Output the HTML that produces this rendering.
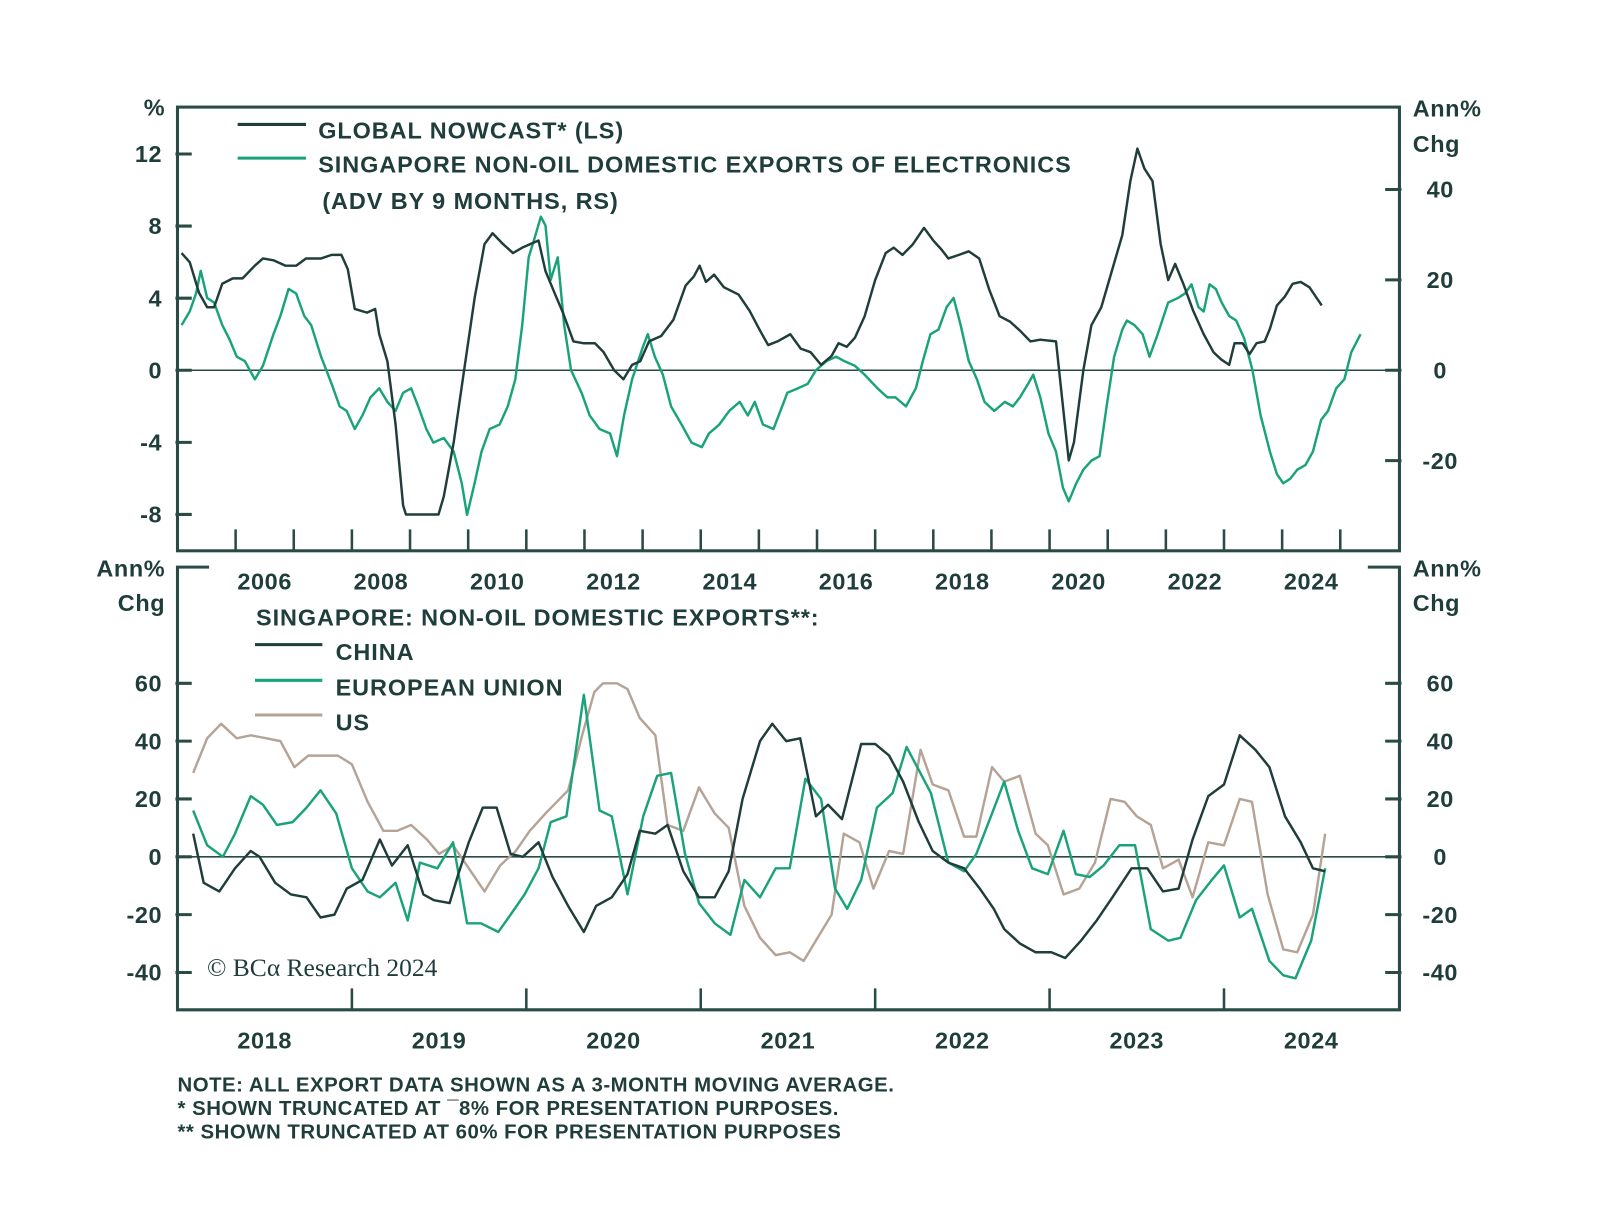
<!DOCTYPE html>
<html><head><meta charset="utf-8"><style>
html,body{margin:0;padding:0;background:#fff}
svg{display:block;font-family:"Liberation Sans",sans-serif}
.lbl{font-weight:bold;fill:#1f3d3a;font-size:23px;letter-spacing:0.9px}
.tk{font-weight:bold;fill:#1f3d3a;font-size:23px;letter-spacing:0.6px}
.note{font-weight:bold;fill:#1f3d3a;font-size:20px;letter-spacing:0.5px}
</style></head><body>
<svg id="chart" width="1600" height="1219" viewBox="0 0 1600 1219" xmlns="http://www.w3.org/2000/svg">
<g id="root" transform="scale(1.02)">
<g id="frames">
<rect x="174" y="105" width="1198" height="435" fill="none" stroke="#2a4a45" stroke-width="3"/>
<path d="M205 556 H174 V990 H1372 V556 H1341" fill="none" stroke="#2a4a45" stroke-width="3"/>
</g>
<g id="topPanel"></g>
<g id="botPanel"></g>
<g>
<line x1="233" y1="122" x2="300" y2="122" stroke="#1f3d3a" stroke-width="3"/>
<text class="lbl" x="312" y="136">GLOBAL NOWCAST* (LS)</text>
<line x1="233" y1="155" x2="300" y2="155" stroke="#1aa37a" stroke-width="3"/>
<text class="lbl" x="312" y="169">SINGAPORE NON-OIL DOMESTIC EXPORTS OF ELECTRONICS</text>
<text class="lbl" x="316" y="205">(ADV BY 9 MONTHS, RS)</text>
</g>
<g>
<text class="lbl" x="251" y="613">SINGAPORE: NON-OIL DOMESTIC EXPORTS**:</text>
<line x1="250" y1="632" x2="316" y2="632" stroke="#1f3d3a" stroke-width="3"/>
<text class="lbl" x="329" y="647">CHINA</text>
<line x1="250" y1="667" x2="316" y2="667" stroke="#1aa37a" stroke-width="3"/>
<text class="lbl" x="329" y="682">EUROPEAN UNION</text>
<line x1="250" y1="701" x2="316" y2="701" stroke="#b5a396" stroke-width="3"/>
<text class="lbl" x="329" y="716">US</text>
</g>
<text class="tk" x="162" y="113" text-anchor="end">%</text>
<text class="tk" x="1385" y="114">Ann%</text>
<text class="tk" x="1385" y="149">Chg</text>
<text class="tk" x="162" y="565" text-anchor="end">Ann%</text>
<text class="tk" x="162" y="599" text-anchor="end">Chg</text>
<text class="tk" x="1385" y="565">Ann%</text>
<text class="tk" x="1385" y="599">Chg</text>
<text x="203" y="957" font-family="'Liberation Serif',serif" font-size="25" fill="#1f3d3a">© BCα Research 2024</text>
<text class="note" x="174" y="1070">NOTE: ALL EXPORT DATA SHOWN AS A 3-MONTH MOVING AVERAGE.</text>
<text class="note" x="174" y="1093">* SHOWN TRUNCATED AT ¯8% FOR PRESENTATION PURPOSES.</text>
<text class="note" x="174" y="1116">** SHOWN TRUNCATED AT 60% FOR PRESENTATION PURPOSES</text>
</g>
</svg>
<script>
const topLeftTicks=[12,8,4,0,-4,-8];
const topRightTicks=[40,20,0,-20];
const topYearLabels=[2006,2008,2010,2012,2014,2016,2018,2020,2022,2024];
const botTicks=[60,40,20,0,-20,-40];
const botYearLabels=[2018,2019,2020,2021,2022,2023,2024];

const nowcastDates=[2005.07,2005.21,2005.37,2005.51,2005.63,2005.77,2005.95,2006.12,2006.33,2006.47,2006.65,2006.86,2007.04,2007.21,2007.47,2007.65,2007.82,2007.93,2008.05,2008.26,2008.40,2008.47,2008.61,2008.75,2008.88,2008.93,2009.49,2009.58,2009.75,2009.93,2010.11,2010.28,2010.42,2010.60,2010.77,2010.93,2011.21,2011.33,2011.51,2011.63,2011.81,2011.98,2012.18,2012.33,2012.51,2012.67,2012.82,2012.96,2013.11,2013.32,2013.53,2013.74,2013.88,2013.98,2014.09,2014.23,2014.40,2014.65,2014.84,2015.02,2015.16,2015.32,2015.54,2015.72,2015.89,2016.07,2016.25,2016.37,2016.51,2016.65,2016.82,2017.00,2017.18,2017.32,2017.47,2017.65,2017.84,2018.00,2018.14,2018.26,2018.44,2018.61,2018.79,2018.96,2019.14,2019.32,2019.49,2019.67,2019.84,2020.11,2020.23,2020.33,2020.42,2020.58,2020.72,2020.89,2021.07,2021.25,2021.39,2021.51,2021.63,2021.77,2021.91,2022.04,2022.16,2022.30,2022.47,2022.65,2022.82,2022.95,2023.09,2023.18,2023.32,2023.44,2023.56,2023.70,2023.79,2023.91,2024.05,2024.18,2024.32,2024.47,2024.68];
const nowcastValues=[6.5,6.0,4.3,3.5,3.5,4.8,5.1,5.1,5.8,6.2,6.1,5.8,5.8,6.2,6.2,6.4,6.4,5.6,3.4,3.2,3.4,2.0,0.5,-3,-7.5,-8,-8,-7,-4,0,4,7,7.6,7,6.5,6.8,7.2,5.5,4.1,3.2,1.6,1.5,1.5,1.0,0.0,-0.5,0.3,0.5,1.6,1.9,2.8,4.7,5.2,5.8,4.9,5.3,4.6,4.2,3.3,2.2,1.4,1.6,2.0,1.2,1.0,0.3,0.8,1.5,1.3,1.8,3.0,5.0,6.5,6.8,6.4,7.0,7.9,7.2,6.7,6.2,6.4,6.6,6.2,4.5,3.0,2.7,2.2,1.6,1.7,1.6,-2,-5.0,-4,0,2.5,3.5,5.5,7.5,10.5,12.3,11.2,10.5,7,5.0,5.9,4.8,3.3,2.0,1.0,0.6,0.3,1.5,1.5,0.9,1.5,1.6,2.3,3.6,4.1,4.8,4.9,4.6,3.6];

const elecDates=[2005.07,2005.21,2005.32,2005.40,2005.51,2005.63,2005.77,2005.89,2006.02,2006.16,2006.33,2006.47,2006.65,2006.77,2006.91,2007.04,2007.18,2007.30,2007.47,2007.65,2007.79,2007.91,2008.05,2008.18,2008.32,2008.47,2008.61,2008.75,2008.88,2009.02,2009.14,2009.28,2009.40,2009.58,2009.75,2009.89,2009.98,2010.11,2010.23,2010.37,2010.54,2010.68,2010.81,2010.93,2011.04,2011.16,2011.25,2011.33,2011.42,2011.54,2011.65,2011.77,2011.95,2012.09,2012.26,2012.44,2012.56,2012.68,2012.82,2013.00,2013.09,2013.21,2013.35,2013.49,2013.67,2013.84,2014.02,2014.14,2014.32,2014.49,2014.67,2014.81,2014.93,2015.07,2015.25,2015.37,2015.49,2015.67,2015.84,2015.98,2016.16,2016.33,2016.47,2016.65,2016.82,2017.04,2017.21,2017.35,2017.53,2017.70,2017.82,2017.95,2018.09,2018.23,2018.35,2018.47,2018.61,2018.75,2018.88,2019.05,2019.23,2019.37,2019.49,2019.63,2019.72,2019.84,2019.98,2020.11,2020.23,2020.33,2020.46,2020.58,2020.72,2020.86,2020.98,2021.11,2021.25,2021.33,2021.46,2021.60,2021.72,2021.86,2022.04,2022.21,2022.33,2022.44,2022.56,2022.65,2022.75,2022.86,2022.96,2023.09,2023.21,2023.35,2023.49,2023.63,2023.79,2023.91,2024.02,2024.14,2024.26,2024.40,2024.53,2024.67,2024.79,2024.93,2025.07,2025.19,2025.35];
const elecValues=[10,13,17,22,16,15,10,7,3,2,-2,1,8,12,18,17,12,10,3,-3,-8,-9,-13,-10,-6,-4,-7,-9,-5,-4,-8,-13,-16,-15,-18,-25,-32,-25,-18,-13,-12,-8,-2,10,25,30,34,32,20,25,10,0,-5,-10,-13,-14,-19,-10,-2,5,8,3,-1,-8,-12,-16,-17,-14,-12,-9,-7,-10,-7,-12,-13,-9,-5,-4,-3,0,2,3,2,1,-1,-4,-6,-6,-8,-4,2,8,9,14,16,10,2,-2,-7,-9,-7,-8,-6,-3,-1,-6,-14,-18,-26,-29,-25,-22,-20,-19,-8,3,9,11,10,8,3,8,15,16,17,19,14,13,19,18,15,12,11,7,0,-10,-18,-23,-25,-24,-22,-21,-18,-11,-9,-4,-2,4,8];

const chinaDates=[2018.09,2018.15,2018.24,2018.33,2018.42,2018.47,2018.56,2018.65,2018.74,2018.82,2018.90,2018.97,2019.06,2019.16,2019.23,2019.32,2019.41,2019.47,2019.56,2019.61,2019.67,2019.75,2019.83,2019.91,2019.98,2020.07,2020.15,2020.24,2020.33,2020.40,2020.49,2020.58,2020.65,2020.74,2020.81,2020.90,2020.99,2021.08,2021.16,2021.24,2021.34,2021.41,2021.49,2021.57,2021.66,2021.73,2021.81,2021.92,2022.00,2022.08,2022.16,2022.25,2022.33,2022.42,2022.51,2022.60,2022.68,2022.74,2022.83,2022.92,2023.01,2023.09,2023.18,2023.27,2023.36,2023.47,2023.56,2023.65,2023.74,2023.82,2023.91,2024.00,2024.09,2024.18,2024.26,2024.35,2024.44,2024.51,2024.58];
const chinaValues=[8,-9,-12,-4,2,0,-9,-13,-14,-21,-20,-11,-8,6,-3,4,-13,-15,-16,-6,5,17,17,1,0,5,-7,-17,-26,-17,-14,-6,9,8,11,-5,-14,-14,-5,20,40,46,40,41,14,18,13,39,39,35,26,12,2,-2,-4,-11,-18,-25,-30,-33,-33,-35,-29,-22,-14,-4,-4,-12,-11,6,21,25,42,37,31,14,5,-4,-5];

const euDates=[2018.09,2018.17,2018.26,2018.33,2018.42,2018.49,2018.57,2018.66,2018.74,2018.82,2018.91,2019.00,2019.09,2019.16,2019.25,2019.32,2019.39,2019.49,2019.58,2019.66,2019.74,2019.84,2019.91,2019.99,2020.07,2020.14,2020.23,2020.33,2020.42,2020.49,2020.58,2020.67,2020.75,2020.83,2020.91,2020.99,2021.08,2021.17,2021.25,2021.34,2021.43,2021.51,2021.60,2021.69,2021.77,2021.84,2021.92,2022.01,2022.10,2022.18,2022.25,2022.32,2022.42,2022.51,2022.58,2022.67,2022.74,2022.82,2022.90,2022.99,2023.08,2023.15,2023.23,2023.31,2023.40,2023.49,2023.58,2023.68,2023.75,2023.84,2023.93,2024.00,2024.09,2024.16,2024.26,2024.34,2024.41,2024.50,2024.58];
const euValues=[16,4,0,8,21,18,11,12,17,23,15,-4,-12,-14,-9,-22,-2,-4,5,-23,-23,-26,-20,-13,-4,12,14,56,16,14,-13,14,28,29,1,-16,-23,-27,-8,-14,-4,-4,27,20,-11,-18,-8,17,22,38,30,22,-2,-5,1,15,26,9,-4,-6,9,-6,-7,-3,4,4,-25,-29,-28,-15,-8,-3,-21,-18,-36,-41,-42,-29,-4];

const usDates=[2018.09,2018.17,2018.25,2018.34,2018.42,2018.51,2018.59,2018.67,2018.75,2018.84,2018.92,2019.00,2019.09,2019.18,2019.26,2019.34,2019.43,2019.50,2019.58,2019.67,2019.76,2019.85,2019.94,2020.02,2020.11,2020.24,2020.32,2020.39,2020.44,2020.52,2020.58,2020.65,2020.74,2020.81,2020.90,2020.99,2021.08,2021.16,2021.25,2021.34,2021.43,2021.51,2021.59,2021.66,2021.75,2021.82,2021.91,2021.99,2022.08,2022.16,2022.26,2022.33,2022.42,2022.51,2022.58,2022.67,2022.74,2022.83,2022.92,2022.99,2023.08,2023.17,2023.26,2023.35,2023.43,2023.50,2023.58,2023.65,2023.74,2023.82,2023.91,2024.00,2024.09,2024.16,2024.25,2024.34,2024.42,2024.51,2024.58];
const usValues=[29,41,46,41,42,41,40,31,35,35,35,32,19,9,9,11,6,1,4,-4,-12,-3,2,9,15,23,42,57,60,60,58,48,42,11,9,24,15,10,-17,-28,-34,-33,-36,-29,-20,8,5,-11,2,1,37,25,23,7,7,31,26,28,8,4,-13,-11,-2,20,19,14,11,-4,-1,-14,5,4,20,19,-13,-32,-33,-20,8];

const NS='http://www.w3.org/2000/svg';
function mk(tag,attrs,parent){const e=document.createElementNS(NS,tag);for(const k in attrs)e.setAttribute(k,attrs[k]);parent.appendChild(e);return e;}
const xTop=t=>174+(t-2005)*57;
const yTopL=v=>363-v*17.67;
const yTopR=v=>363-v*4.43;
const xBot=t=>174+(t-2018)*171;
const yBot=v=>840-v*2.835;

const topG=document.getElementById('topPanel');
const botG=document.getElementById('botPanel');

function drawLine(dates,vals,xf,yf,color,parent,name){
  let d='';
  for(let i=0;i<dates.length;i++)d+=(i?'L':'M')+xf(dates[i]).toFixed(1)+' '+yf(vals[i]).toFixed(1);
  const p=mk('path',{d:d,fill:'none',stroke:color,'stroke-width':2.4,'stroke-linejoin':'round'},parent);
  
  
}

const z1=mk('line',{x1:174,x2:1372,y1:yTopL(0),y2:yTopL(0),stroke:'#2a4a45','stroke-width':1.5},topG);


topLeftTicks.forEach(v=>{
  const y=yTopL(v);
  const l=mk('line',{x1:172,x2:188,y1:y,y2:y,stroke:'#2a4a45','stroke-width':3},topG);
  
  
  const t=mk('text',{x:159,y:y+8,'text-anchor':'end',class:'tk'},topG);
  t.textContent=v;
  
  
});
topRightTicks.forEach(v=>{
  const y=yTopR(v);
  const l=mk('line',{x1:1358,x2:1374,y1:y,y2:y,stroke:'#2a4a45','stroke-width':3},topG);
  
  
  const t=mk('text',{x:1412,y:y+8,'text-anchor':'middle',class:'tk'},topG);
  t.textContent=v;
  
  
});
for(let yr=2006;yr<=2025;yr++){
  const x=xTop(yr);
  const l=mk('line',{x1:x,x2:x,y1:519,y2:540,stroke:'#2a4a45','stroke-width':2.5},topG);
  
  
}
topYearLabels.forEach(yr=>{
  const t=mk('text',{x:xTop(yr+0.5),y:578,'text-anchor':'middle',class:'tk'},topG);
  t.textContent=yr;
  
  
});
drawLine(elecDates,elecValues,xTop,yTopR,'#1aa37a',topG,'electronics-exports-line');
drawLine(nowcastDates,nowcastValues,xTop,yTopL,'#1f3d3a',topG,'global-nowcast-line');

const z2=mk('line',{x1:174,x2:1372,y1:yBot(0),y2:yBot(0),stroke:'#2a4a45','stroke-width':1.5},botG);


botTicks.forEach(v=>{
  const y=yBot(v);
  const l=mk('line',{x1:172,x2:188,y1:y,y2:y,stroke:'#2a4a45','stroke-width':3},botG);
  
  
  const t=mk('text',{x:159,y:y+8,'text-anchor':'end',class:'tk'},botG);
  t.textContent=v;
  
  
  const r=mk('line',{x1:1358,x2:1374,y1:y,y2:y,stroke:'#2a4a45','stroke-width':3},botG);
  
  
  const t2=mk('text',{x:1412,y:y+8,'text-anchor':'middle',class:'tk'},botG);
  t2.textContent=v;
  
  
});
for(let yr=2019;yr<=2024;yr++){
  const x=xBot(yr);
  const l=mk('line',{x1:x,x2:x,y1:969,y2:990,stroke:'#2a4a45','stroke-width':2.5},botG);
  
  
}
botYearLabels.forEach(yr=>{
  const t=mk('text',{x:xBot(yr+0.5),y:1028,'text-anchor':'middle',class:'tk'},botG);
  t.textContent=yr;
  
  
});
drawLine(usDates,usValues,xBot,yBot,'#b5a396',botG,'us-exports-line');
drawLine(euDates,euValues,xBot,yBot,'#1aa37a',botG,'eu-exports-line');
drawLine(chinaDates,chinaValues,xBot,yBot,'#1f3d3a',botG,'china-exports-line');
</script>
</body></html>
